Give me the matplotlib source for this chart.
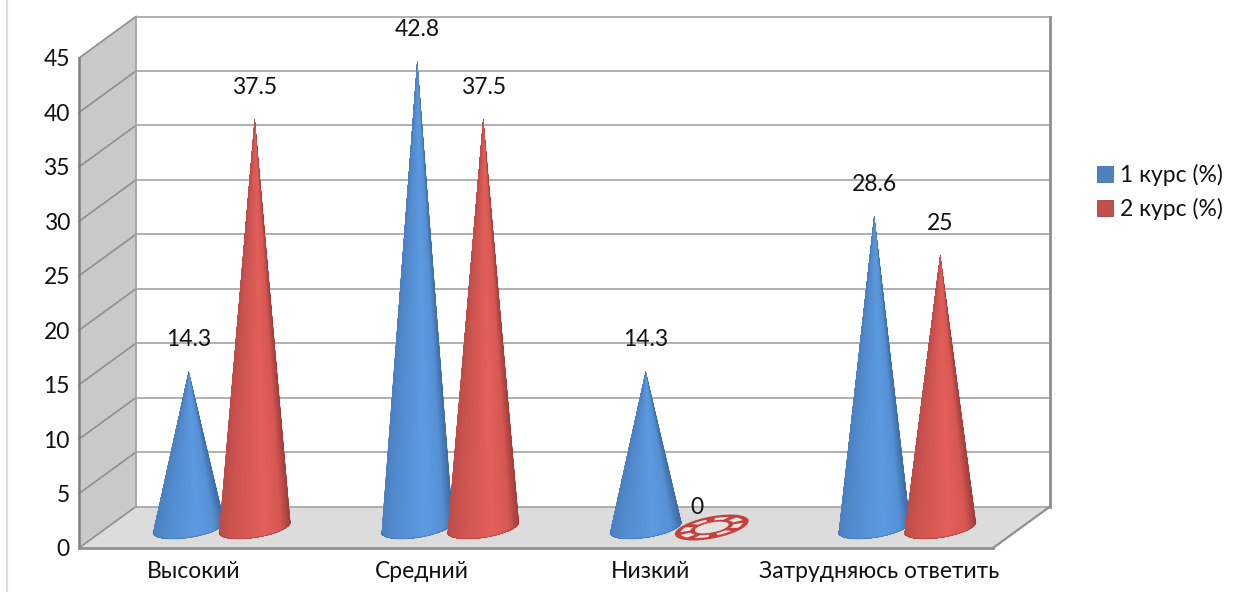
import numpy as np
import matplotlib
matplotlib.use("Agg")
import matplotlib.pyplot as plt
from matplotlib.colors import to_rgb
from matplotlib.lines import Line2D
from matplotlib.patches import Patch, Polygon

categories = ["Высокий", "Средний", "Низкий", "Затрудняюсь ответить"]
series_names = ["1 курс (%)", "2 курс (%)"]
course1 = [14.3, 42.8, 14.3, 28.6]
course2 = [37.5, 37.5, 0, 25]
yticks = list(range(0, 50, 5))

W, H = 1243, 592
plt.rcParams['font.family'] = ['Lato', 'DejaVu Sans']
FS = 16.5
TXT = '#111111'
fig = plt.figure(figsize=(W / 100, H / 100), dpi=100, facecolor='white')
L, R, T, B = 79, 993, 58, 548
ax = fig.add_axes([L / W, 1 - B / H, (R - L) / W, (B - T) / H])
ax.set_xlim(0, 4)
ax.set_ylim(0, 45)
ax.patch.set_visible(False)
for s in ax.spines.values():
    s.set_visible(False)

PX = (R - L) / 4      # pixels per category
PY = (B - T) / 45     # pixels per value unit
DX, DY = 57 / PX, 41.5 / PY   # chart depth in data units
MIDY = 41 / PY / 2


def P(xd, yd, ox=0.0, oy=0.0):
    """data position + pixel offset (oy downward) -> data coordinates"""
    return xd + np.asarray(ox) / PX, yd - np.asarray(oy) / PY


# walls and floor
ax.add_patch(Polygon([(0, 0), (DX, DY), (DX, 45 + DY), (0, 45)], closed=True,
                     fc='#c9c9c9', ec='none', clip_on=False, zorder=1))
ax.add_patch(Polygon([(0, 0), (4, 0), (4 + DX, DY), (DX, DY)], closed=True,
                     fc='#dcdcdc', ec='none', clip_on=False, zorder=1))
GRID = '#a3a3a3'
EDGE = '#8f8f8f'
for v in yticks:
    ax.plot([DX, 4 + DX], [v + DY, v + DY], color=GRID, lw=1.2, clip_on=False, zorder=2)
    ax.plot([0, DX], [v, v + DY], color=EDGE, lw=1.2, clip_on=False, zorder=2)
ax.plot([DX, DX], [DY, 45 + DY], color=GRID, lw=1.3, clip_on=False, zorder=2)
ax.plot([4 + DX, 4 + DX], [DY, 45 + DY], color=EDGE, lw=2.0, clip_on=False, zorder=2)
ax.plot([0, 0], [0, 45], color='#808080', lw=1.8, clip_on=False, zorder=2)
ax.plot([0, 4], [0, 0], color=EDGE, lw=2.0, clip_on=False, zorder=2)
ax.plot([4, 4 + DX], [0, DY], color=EDGE, lw=1.6, clip_on=False, zorder=2)

TILT = np.deg2rad(-9)
A, Bb = 36.0, 10.0


def ell(t, a=A, b=Bb, tilt=TILT):
    ex = a * np.cos(t)
    ey = b * np.sin(t)
    return (ex * np.cos(tilt) - ey * np.sin(tilt),
            ex * np.sin(tilt) + ey * np.cos(tilt))


def shade(dark, light, u):
    """u = 0 at the left edge of the cone, 1 at the right edge"""
    d, l = np.array(to_rgb(dark)), np.array(to_rgb(light))
    w = np.interp(u, [0, 0.12, 0.6, 0.85, 1], [0.45, 0.65, 1, 0.8, 0])
    return tuple(d + (l - d) * w)


def cone(xc, value, dark, light, z):
    xd, yd = xc + DX / 2, MIDY
    tip = P(xd, yd + value)
    ts = np.linspace(-0.22, np.pi + 0.22, 100)  # right end -> left end of the visible base
    ex, ey = P(xd, yd, *ell(ts))
    # painter's order: every slice covers the remainder, so no seams show
    for i in range(len(ts) - 1):
        u = 0.5 + 0.5 * np.cos((ts[i] + ts[i + 1]) / 2)
        pts = [tip] + list(zip(ex[i:], ey[i:]))
        ax.add_patch(Polygon(pts, closed=True, fc=shade(dark, light, u),
                             ec='none', clip_on=False, zorder=z))
    ax.plot(ex, ey, color=dark, lw=0.6, alpha=0.6, clip_on=False, zorder=z + 0.1)


def chip(xc, color, z):
    xd, yd = xc + DX / 2, MIDY
    tilt = np.deg2rad(-11)
    t = np.linspace(0, 2 * np.pi, 121)
    xo, yo = ell(t, 37.5, 11, tilt)
    xi, yi = ell(t[::-1], 17, 4.8, tilt)
    ox, oy = P(xd, yd, np.r_[xo, xi], np.r_[yo, yi])
    ax.add_patch(Polygon(np.c_[ox, oy], closed=True, fc=color, ec='none',
                         clip_on=False, zorder=z))
    xh, yh = P(xd, yd, *ell(t, 17, 4.8, tilt))
    ax.fill(xh, yh, color='#e6e2e2', ec='none', clip_on=False, zorder=z)
    for c in np.arange(8) * 2 * np.pi / 8 + 0.4:
        tt = np.linspace(c - 0.24, c + 0.24, 8)
        xa, ya = ell(tt, 32, 8.8, tilt)
        xb, yb = ell(tt[::-1], 22, 6.6, tilt)
        sx, sy = P(xd, yd, np.r_[xa, xb], np.r_[ya, yb])
        ax.fill(sx, sy, color='#f0e2e2', ec='none', clip_on=False, zorder=z + 0.1)


centers = np.arange(len(categories)) + 0.5
OFF = 33 / PX
BLUE = ('#3d6ca6', '#5c9ae0')
RED = ('#a03c3a', '#e35f5a')
for i, xc in enumerate(centers):
    for j, (vals, col, off) in enumerate(((course1, BLUE, -OFF), (course2, RED, OFF))):
        v = vals[i]
        z = 5 + j + i * 2
        if v == 0:
            chip(xc + off, '#c4403c', z)
            ax.annotate(f"{v:g}", (xc + off + DX / 2, MIDY), xytext=(-15 * .72, 19.5 * .72),
                        textcoords='offset points', ha='center', va='center',
                        fontsize=FS, color=TXT, annotation_clip=False, zorder=30)
        else:
            cone(xc + off, v, col[0], col[1], z)
            ax.annotate(f"{v:g}", (xc + off + DX / 2, MIDY + v), xytext=(0, 32 * .72),
                        textcoords='offset points', ha='center', va='center',
                        fontsize=FS, color=TXT, annotation_clip=False, zorder=30)

ax.set_yticks(yticks)
ax.set_xticks(centers)
ax.set_xticklabels(categories)
ax.tick_params(axis='both', length=0, labelsize=FS, labelcolor=TXT)
ax.tick_params(axis='y', pad=6.5)
ax.tick_params(axis='x', pad=9)

handles = [Patch(fc='#4f81bd', ec='#3f6fa8', lw=0.6), Patch(fc='#c0504d', ec='#a8403e', lw=0.6)]
fig.legend(handles, series_names, loc='center left', bbox_to_anchor=(1097 / W, 1 - 192 / H),
           frameon=False, fontsize=FS, handlelength=0.7, handleheight=0.7,
           handletextpad=0.32, labelspacing=0.5, borderpad=0, borderaxespad=0,
           labelcolor=TXT)

fig.add_artist(Line2D([7 / W, 7 / W], [0, 1], color='#dedede', lw=1.5))
fig.savefig('out.png', dpi=100, facecolor='white')
